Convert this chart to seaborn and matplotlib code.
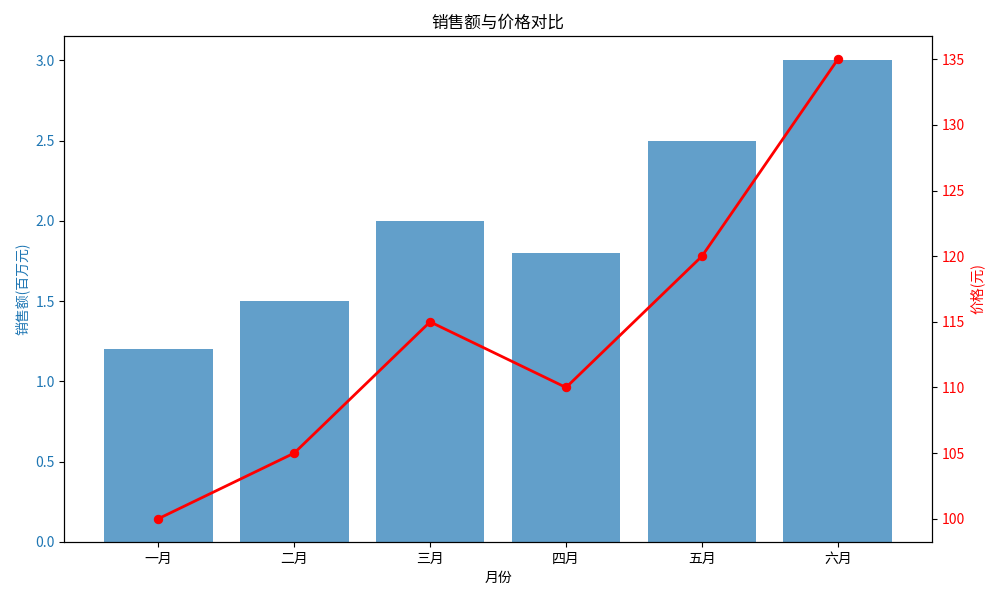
import matplotlib
matplotlib.use('Agg')
import matplotlib.pyplot as plt
import seaborn as sns

months = ['一月', '二月', '三月', '四月', '五月', '六月']
sales = [1.2, 1.5, 2.0, 1.8, 2.5, 3.0]
prices = [100, 105, 115, 110, 120, 135]

plt.rcParams['font.family'] = ['Noto Sans CJK SC', 'DejaVu Sans']
plt.rcParams['axes.unicode_minus'] = False

fig, ax1 = plt.subplots(figsize=(10, 6), dpi=100)

# sales bars on the left axis
sns.barplot(x=months, y=sales, color='C0', alpha=0.7, saturation=1, width=0.8, ax=ax1)
ax1.set_xlim(-0.69, 5.69)
ax1.set_xlabel('月份')
ax1.set_ylabel('销售额(百万元)', color='C0')
ax1.tick_params(axis='y', labelcolor='C0')

# price line on the right axis
ax2 = ax1.twinx()
sns.lineplot(x=months, y=prices, ax=ax2, color='red', marker='o', linewidth=2,
             markersize=6, markeredgecolor='red', sort=False)
ax2.set_ylabel('价格(元)', color='red')
ax2.tick_params(axis='y', labelcolor='red')

ax1.set_title('销售额与价格对比')
fig.tight_layout()
fig.savefig('out.png')
